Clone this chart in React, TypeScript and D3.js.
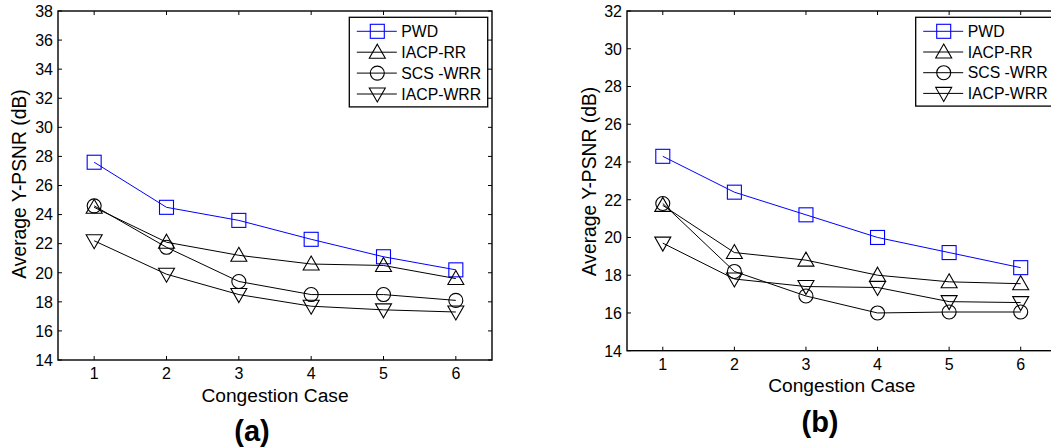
import React from "react";
import * as d3 from "d3";

const cases = [1, 2, 3, 4, 5, 6];
const seriesNames = ["PWD", "IACP-RR", "SCS -WRR", "IACP-WRR"];
const markerTypes = ["square", "triangle", "circle", "triangleDown"];
const seriesColors = ["#0000ff", "#000000", "#000000", "#000000"];

const aPWD = [27.6, 24.5, 23.6, 22.3, 21.1, 20.2];
const aIACPRR = [24.5, 22.1, 21.2, 20.6, 20.5, 19.6];
const aSCSWRR = [24.6, 21.75, 19.4, 18.5, 18.5, 18.1];
const aIACPWRR = [22.2, 19.9, 18.5, 17.7, 17.45, 17.3];

const bPWD = [24.3, 22.4, 21.2, 20.0, 19.2, 18.4];
const bIACPRR = [21.7, 19.2, 18.8, 18.0, 17.65, 17.55];
const bSCSWRR = [21.8, 18.2, 16.9, 16.0, 16.05, 16.05];
const bIACPWRR = [19.7, 17.8, 17.4, 17.35, 16.6, 16.55];

const aTicksY = [14, 16, 18, 20, 22, 24, 26, 28, 30, 32, 34, 36, 38];
const bTicksY = [14, 16, 18, 20, 22, 24, 26, 28, 30, 32];

const FONT = "Arial, 'Liberation Sans', Helvetica, sans-serif";

function Marker({ type, x, y, color }: { type: string; x: number; y: number; color: string }) {
  const s = 7;
  if (type === "square")
    return <rect x={x - s} y={y - s} width={2 * s} height={2 * s} fill="none" stroke={color} strokeWidth={1.1} />;
  if (type === "circle") return <circle cx={x} cy={y} r={s} fill="none" stroke={color} strokeWidth={1.1} />;
  if (type === "triangle")
    return (
      <path
        d={`M${x},${y - s - 1}L${x + s + 1},${y + s - 1}L${x - s - 1},${y + s - 1}Z`}
        fill="none"
        stroke={color}
        strokeWidth={1.1}
      />
    );
  return (
    <path
      d={`M${x},${y + s + 1}L${x + s + 1},${y - s + 1}L${x - s - 1},${y - s + 1}Z`}
      fill="none"
      stroke={color}
      strokeWidth={1.1}
    />
  );
}

type PanelProps = {
  left: number;
  right: number;
  top: number;
  bottom: number;
  yMax: number;
  yTicks: number[];
  data: number[][];
  legendX: number;
  legendY: number;
  legendW: number;
  legendRow: number;
  ylabelX: number;
  ylabelY: number;
  xlabelY: number;
  caption: string;
  captionX: number;
  captionY: number;
};

function Panel(p: PanelProps) {
  const x = d3.scaleLinear().domain([0.5, 6.5]).range([p.left, p.right]);
  const y = d3.scaleLinear().domain([14, p.yMax]).range([p.bottom, p.top]);
  const line = d3
    .line<number>()
    .x((_, i) => x(cases[i]))
    .y((d) => y(d));
  const tl = 4;
  return (
    <g fontFamily={FONT}>
      <rect x={p.left} y={p.top} width={p.right - p.left} height={p.bottom - p.top} fill="none" stroke="#000" strokeWidth={1.4} />
      {cases.map((c) => (
        <g key={"xt" + c}>
          <line x1={x(c)} x2={x(c)} y1={p.bottom} y2={p.bottom - tl} stroke="#000" />
          <line x1={x(c)} x2={x(c)} y1={p.top} y2={p.top + tl} stroke="#000" />
          <text x={x(c)} y={p.bottom + 19} textAnchor="middle" fontSize={16} fill="#000">
            {c}
          </text>
        </g>
      ))}
      {p.yTicks.map((t) => (
        <g key={"yt" + t}>
          <line x1={p.left} x2={p.left + tl} y1={y(t)} y2={y(t)} stroke="#000" />
          <line x1={p.right} x2={p.right - tl} y1={y(t)} y2={y(t)} stroke="#000" />
          <text x={p.left - 5} y={y(t) + 5.8} textAnchor="end" fontSize={16} fill="#000">
            {t}
          </text>
        </g>
      ))}
      {p.data.map((vals, si) => (
        <g key={"s" + si}>
          <path d={line(vals) || ""} fill="none" stroke={seriesColors[si]} strokeWidth={1} />
          {vals.map((v, i) => (
            <Marker key={i} type={markerTypes[si]} x={x(cases[i])} y={y(v)} color={seriesColors[si]} />
          ))}
        </g>
      ))}
      <rect
        x={p.legendX}
        y={p.legendY}
        width={p.legendW}
        height={p.legendRow * 4 + 6}
        fill="#fff"
        stroke="#000"
        strokeWidth={1.3}
      />
      {seriesNames.map((n, i) => {
        const cy = p.legendY + 14 + i * p.legendRow;
        return (
          <g key={"lg" + i}>
            <line x1={p.legendX + 7.5} x2={p.legendX + 47.5} y1={cy} y2={cy} stroke={seriesColors[i]} strokeWidth={1} />
            <Marker type={markerTypes[i]} x={p.legendX + 28} y={cy} color={seriesColors[i]} />
            <text x={p.legendX + 52} y={cy + 5.7} fontSize={15.8} fill="#000">
              {n}
            </text>
          </g>
        );
      })}
      <text
        transform={`translate(${p.ylabelX},${p.ylabelY}) rotate(-90)`}
        textAnchor="middle"
        fontSize={19.3}
        fill="#000"
        dominantBaseline="central"
      >
        Average Y-PSNR (dB)
      </text>
      <text x={(p.left + p.right) / 2} y={p.xlabelY} textAnchor="middle" fontSize={19.2} fill="#000" dominantBaseline="central">
        Congestion Case
      </text>
      <text x={p.captionX} y={p.captionY} textAnchor="middle" fontSize={29} fontWeight="bold" fill="#000" dominantBaseline="central">
        {p.caption}
      </text>
    </g>
  );
}

export default function App() {
  return (
    <svg
      width={1051}
      height={447}
      style={{ position: "fixed", left: 0, top: 0, background: "#fff" }}
      viewBox="0 0 1051 447"
    >
      <rect x={0} y={0} width={1051} height={447} fill="#fff" />
      <Panel
        left={58}
        right={492}
        top={11}
        bottom={360}
        yMax={38}
        yTicks={aTicksY}
        data={[aPWD, aIACPRR, aSCSWRR, aIACPWRR]}
        legendX={349.3}
        legendY={17.3}
        legendW={138.4}
        legendRow={20.9}
        ylabelX={19}
        ylabelY={184}
        xlabelY={395}
        caption="(a)"
        captionX={252}
        captionY={431}
      />
      <Panel
        left={627}
        right={1056.5}
        top={11}
        bottom={350.7}
        yMax={32}
        yTicks={bTicksY}
        data={[bPWD, bIACPRR, bSCSWRR, bIACPWRR]}
        legendX={915.7}
        legendY={17.3}
        legendW={136}
        legendRow={20.7}
        ylabelX={589}
        ylabelY={181.5}
        xlabelY={385}
        caption="(b)"
        captionX={820}
        captionY={422}
      />
    </svg>
  );
}
